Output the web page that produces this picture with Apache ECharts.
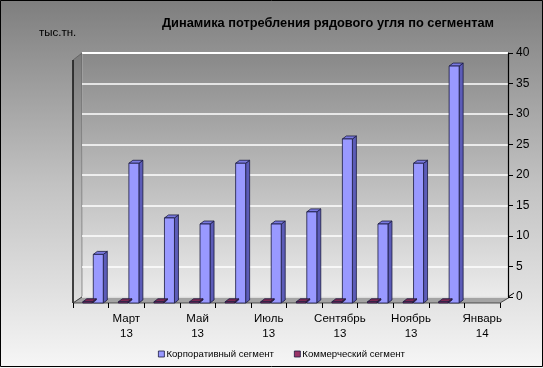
<!DOCTYPE html>
<html><head><meta charset="utf-8">
<script src="https://cdn.jsdelivr.net/npm/echarts@6/dist/echarts.min.js"></script>
<style>html,body{margin:0;padding:0;}#c{width:543px;height:368px;}</style>
</head><body><div id="c"></div>
<script>
const categories = ['Февраль 13','Март 13','Апрель 13','Май 13','Июнь 13','Июль 13','Август 13','Сентябрь 13','Октябрь 13','Ноябрь 13','Декабрь 13','Январь 14'];
const corporate = [8, 23, 14, 13, 23, 13, 15, 27, 13, 23, 39, null];
const commercial = [0.2, 0.2, 0.2, 0.2, 0.2, 0.2, 0.2, 0.2, 0.2, 0.2, 0.2, null];
const yTicks = {min: 0, max: 40, interval: 5};
const seriesNames = ['Корпоративный сегмент', 'Коммерческий сегмент'];

const chart = echarts.init(document.getElementById('c'));
const DX = 4, DY = -3;
function makeRender(off0, off1, front, side, top) {
  return function (params, api) {
    const v = api.value(1);
    if (v == null || isNaN(v)) return;
    const c = api.coord([api.value(0), v]);
    const b = api.coord([api.value(0), 0]);
    const x0 = c[0] + off0, x1 = c[0] + off1, yt = c[1], yb = b[1];
    const st = {stroke: '#1a1a40', lineWidth: 0.8};
    return {type: 'group', children: [
      {type: 'polygon', shape: {points: [[x1, yt], [x1 + DX, yt + DY], [x1 + DX, yb + DY], [x1, yb]]}, style: Object.assign({fill: side}, st)},
      {type: 'polygon', shape: {points: [[x0, yt], [x0 + DX, yt + DY], [x1 + DX, yt + DY], [x1, yt]]}, style: Object.assign({fill: top}, st)},
      {type: 'rect', shape: {x: x0, y: yt, width: x1 - x0, height: Math.max(yb - yt, 0.5)}, style: Object.assign({fill: front}, st)}
    ]};
  };
}

const option = {
  animation: false,
  backgroundColor: {type: 'linear', x: 0, y: 0, x2: 0, y2: 1, colorStops: [
    {offset: 0, color: '#7e7e7e'}, {offset: 0.5, color: '#c2c2c2'}, {offset: 1, color: '#f6f6f6'}]},
  title: [
    {text: 'Динамика потребления рядового угля по сегментам', left: 157, top: 12,
     textStyle: {fontFamily: 'Arial, Liberation Sans', fontSize: 12.8, fontWeight: 'bold', color: '#000'}},
    {text: 'тыс.тн.', left: 34, top: 22,
     textStyle: {fontFamily: 'Arial, Liberation Sans', fontSize: 11.5, fontWeight: 'normal', color: '#000'}}
  ],
  graphic: [
    {type: 'rect', shape: {x: 82, y: 53, width: 426, height: 244}, z: -10,
     style: {fill: {type: 'linear', x: 0, y: 0, x2: 0, y2: 1, colorStops: [
       {offset: 0, color: '#888888'}, {offset: 1, color: '#ececec'}]}, stroke: null}},
    {type: 'line', shape: {x1: 82, y1: 53, x2: 508, y2: 53}, z: -5, style: {stroke: '#ffffff', lineWidth: 2}},
    {type: 'line', shape: {x1: 82, y1: 53, x2: 82, y2: 297}, z: -5, style: {stroke: '#f0f0f0', lineWidth: 1}},
    {type: 'polygon', shape: {points: [[73, 60], [82, 53], [82, 297], [73, 303]]}, z: -4,
     style: {fill: {type: 'linear', x: 0, y: 0, x2: 0, y2: 1, colorStops: [
       {offset: 0, color: '#7a7a7a'}, {offset: 1, color: '#e0e0e0'}]}, stroke: '#505050', lineWidth: 0.6}},
    {type: 'line', shape: {x1: 73, y1: 60, x2: 73, y2: 303}, z: -3, style: {stroke: '#1a1a1a', lineWidth: 1.5}},
    {type: 'polygon', shape: {points: [[73, 303], [82, 297], [510, 297], [500, 303]]}, z: -3,
     style: {fill: '#a4a4a4', stroke: '#303030', lineWidth: 0.8}},
    {type: 'line', shape: {x1: 508, y1: 297, x2: 514, y2: 293}, z: -3, style: {stroke: '#000', lineWidth: 1}},
    {type: 'rect', shape: {x: 0.5, y: 0.5, width: 542, height: 366}, z: 100,
     style: {fill: null, stroke: '#000', lineWidth: 1}}
  ],
  legend: {
    left: 153, top: 344, itemWidth: 6, itemHeight: 6, itemGap: 20, icon: 'rect',
    textStyle: {fontFamily: 'Arial, Liberation Sans', fontSize: 9.6, color: '#000', padding: [0, 0, 0, -3]},
    data: [
      {name: seriesNames[0], itemStyle: {color: '#9999ff', borderColor: '#1a1a40', borderWidth: 0.8}},
      {name: seriesNames[1], itemStyle: {color: '#993366', borderColor: '#1a1a40', borderWidth: 0.8}}
    ]
  },
  grid: [
    {left: 82, right: 35, top: 53, bottom: 71},
    {left: 73, right: 43, top: 60, bottom: 65}
  ],
  xAxis: [
    {gridIndex: 0, type: 'category', data: categories, show: false},
    {gridIndex: 1, type: 'category', data: categories,
     axisLine: {show: false},
     axisTick: {show: true, length: 5, lineStyle: {color: '#000'}, interval: 0},
     axisLabel: {interval: function (i) { return i % 2 === 1; }, margin: 8,
       fontFamily: 'Arial, Liberation Sans', fontSize: 11.5, color: '#000', lineHeight: 15,
       formatter: function (v) { return v.replace(' ', '\n'); }}}
  ],
  yAxis: [
    {gridIndex: 0, type: 'value', position: 'right', min: yTicks.min, max: yTicks.max, interval: yTicks.interval,
     axisLine: {show: true, lineStyle: {color: '#000', width: 1.2}},
     axisTick: {show: true, length: 5, lineStyle: {color: '#000'}},
     axisLabel: {margin: 8, fontFamily: 'Arial, Liberation Sans', fontSize: 12, color: '#000'},
     splitLine: {show: true, lineStyle: {color: '#ffffff', width: 1.5}}},
    {gridIndex: 1, type: 'value', min: yTicks.min, max: yTicks.max, interval: yTicks.interval, show: false,
     splitLine: {show: false}}
  ],
  series: [
    {name: seriesNames[0], type: 'custom', xAxisIndex: 1, yAxisIndex: 1,
     itemStyle: {color: '#9999ff'},
     renderItem: makeRender(2.5, 12.5, '#9999ff', '#5c5cb8', '#7a7ae0'),
     encode: {x: 0, y: 1},
     data: corporate.map(function (v, i) { return [i, v]; })},
    {name: seriesNames[1], type: 'custom', xAxisIndex: 1, yAxisIndex: 1,
     itemStyle: {color: '#993366'},
     renderItem: makeRender(-8, 1.5, '#993366', '#66223f', '#7a2952'),
     encode: {x: 0, y: 1},
     data: commercial.map(function (v, i) { return [i, v]; })}
  ]
};
chart.setOption(option);
</script></body></html>
